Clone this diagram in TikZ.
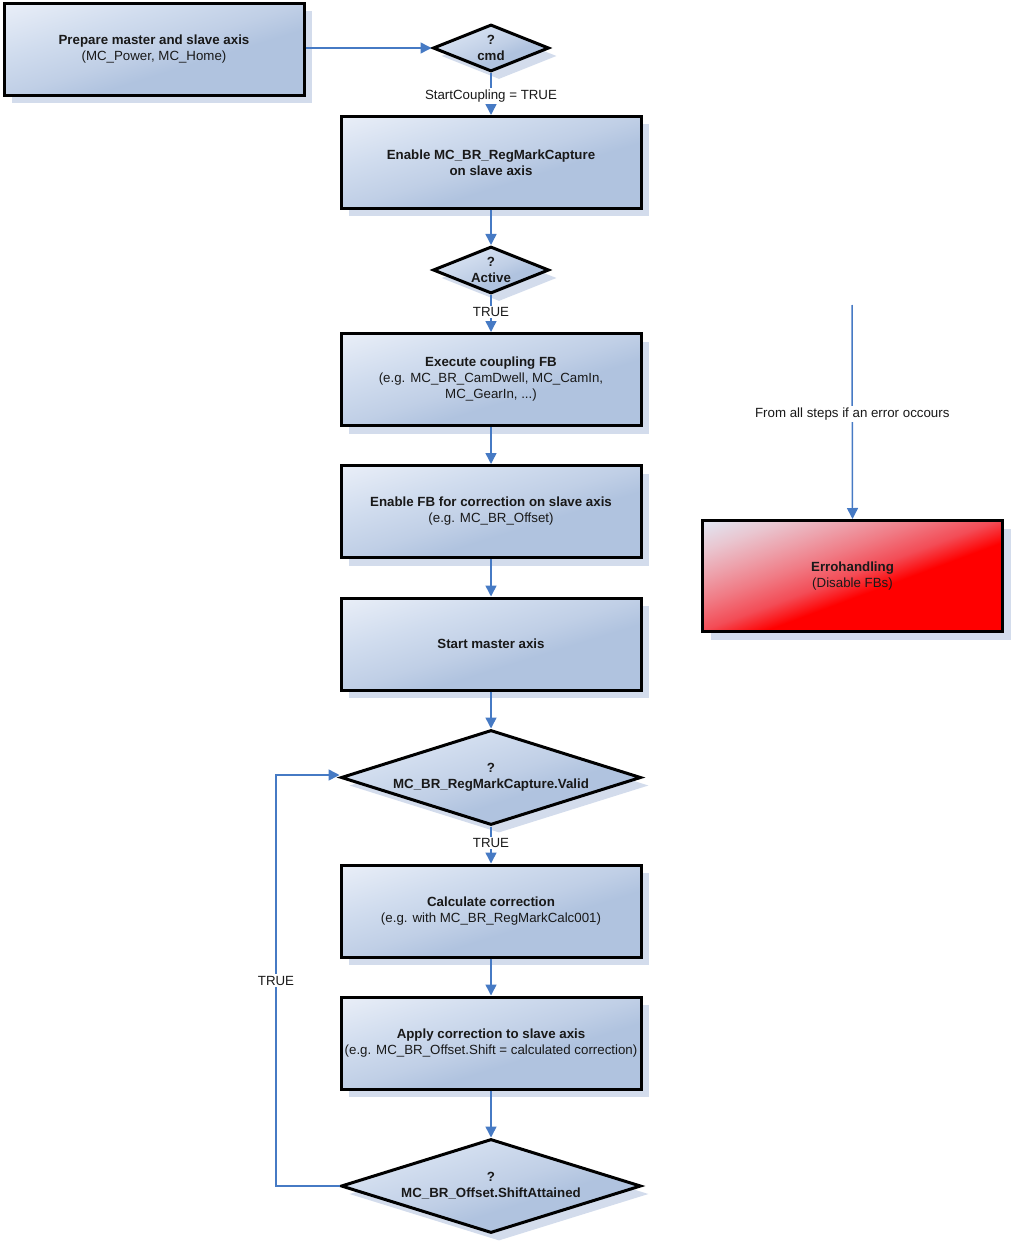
\documentclass[tikz,border=0pt]{standalone}
\usepackage{fontspec}
\setmainfont{Liberation Sans}
\usetikzlibrary{shapes.geometric,arrows.meta,shadows}
\definecolor{shadowc}{RGB}{211,220,236}
\definecolor{arrc}{RGB}{70,122,196}
\definecolor{bA}{RGB}{176,195,223}
\definecolor{bB}{RGB}{192,207,230}
\definecolor{bC}{RGB}{208,220,238}
\definecolor{bD}{RGB}{234,239,248}
\definecolor{rA}{RGB}{255,0,0}
\definecolor{rB}{RGB}{243,76,86}
\definecolor{rC}{RGB}{240,122,132}
\definecolor{rD}{RGB}{237,160,170}
\definecolor{rE}{RGB}{233,198,208}
\definecolor{rF}{RGB}{226,228,240}
\pgfdeclareverticalshading{bluesh}{150bp}{color(0bp)=(bA); color(55bp)=(bA); color(75bp)=(bB); color(105bp)=(bC); color(146bp)=(bD); color(150bp)=(bD)}
\pgfdeclareverticalshading{redsh}{150bp}{color(0bp)=(rA); color(61bp)=(rA); color(76bp)=(rB); color(93bp)=(rC); color(109bp)=(rD); color(126bp)=(rE); color(143bp)=(rF); color(150bp)=(rF)}
\tikzset{
  grad/.style n args={3}{path picture={\node[inner sep=0pt, outer sep=0pt, xscale=#2, yscale=#3, rotate=45]
      at (path picture bounding box.center) {\pgfuseshading{#1}};}},
  dshadow/.style={drop shadow={shadow xshift=8pt, shadow yshift=-8pt, fill=shadowc, opacity=1}},
  stepbox/.style={rectangle, draw=black, line width=3pt, minimum width=300pt, minimum height=92pt,
    grad={bluesh}{3.0}{0.93}, align=center, text=black!90, dshadow},
  errbox/.style={rectangle, draw=black, line width=3pt, minimum width=300pt, minimum height=111pt,
    grad={redsh}{3.0}{1.12}, align=center, text=black!90, dshadow},
  decis/.style={diamond, draw=black, line width=3pt, inner sep=0pt, dshadow},
  dtext/.style={align=center, font=\fontsize{13.3}{16}\bfseries\selectfont, text=black!90},
  arr/.style={draw=arrc, line width=1.5pt, -{Triangle[length=11pt,width=11pt]}},
  lbl/.style={fill=white, inner sep=1.5pt, text=black!90}
}
\begin{document}
\begin{tikzpicture}[x=1pt,y=-1pt, font=\fontsize{13.3}{16}\selectfont]
\useasboundingbox (0,0) rectangle (1013,1241);

\node[stepbox] (b1) at (154,49.5) {\textbf{Prepare master and slave axis}\\(MC\_Power, MC\_Home)};
\node[decis, minimum width=116pt, minimum height=47pt, grad={bluesh}{1.17}{0.48}] (cmd) at (491,48) {};
\node[dtext] (cmdt) at (cmd.center) {?\\cmd};
\node[stepbox] (b2) at (491,162.5) {\textbf{Enable MC\_BR\_RegMarkCapture}\\\textbf{on slave axis}};
\node[decis, minimum width=116pt, minimum height=47pt, grad={bluesh}{1.17}{0.48}] (act) at (491,270) {};
\node[dtext] (actt) at (act.center) {?\\Active};
\node[stepbox] (b3) at (491,379.5) {\textbf{Execute coupling FB}\\(e.g. MC\_BR\_CamDwell, MC\_CamIn,\\MC\_GearIn, ...)};
\node[stepbox] (b4) at (491,511.5) {\textbf{Enable FB for correction on slave axis}\\(e.g. MC\_BR\_Offset)};
\node[stepbox] (b5) at (491,644) {\textbf{Start master axis}};
\node[decis, minimum width=300pt, minimum height=95pt, grad={bluesh}{3.0}{0.96}] (val) at (491,777.5) {};
\node[dtext] (valt) at (val.center) {?\\MC\_BR\_RegMarkCapture.Valid};
\node[stepbox] (b6) at (491,911) {\textbf{Calculate correction}\\(e.g. with MC\_BR\_RegMarkCalc001)};
\node[stepbox] (b7) at (491,1043) {\textbf{Apply correction to slave axis}\\(e.g. MC\_BR\_Offset.Shift = calculated correction)};
\node[decis, minimum width=300pt, minimum height=94pt, grad={bluesh}{3.0}{0.95}] (shf) at (491,1186) {};
\node[dtext] (shft) at (shf.center) {?\\MC\_BR\_Offset.ShiftAttained};
\node[errbox] (err) at (852.5,576) {\textbf{Errohandling}\\(Disable FBs)};

\coordinate (lb) at (276,1186);
\coordinate (lt) at (276,775);
\coordinate (errsrc) at (852,305);

\draw[arr] (b1.east |- cmd.west) -- (cmd.west);
\draw[arr] (cmd.south) -- node[lbl, pos=0.55] {StartCoupling = TRUE} (b2.north);
\draw[arr] (b2.south) -- (act.north);
\draw[arr] (act.south) -- node[lbl, pos=0.45] {TRUE} (b3.north);
\draw[arr] (b3.south) -- (b4.north);
\draw[arr] (b4.south) -- (b5.north);
\draw[arr] (b5.south) -- (val.north);
\draw[arr] (val.south) -- node[lbl, pos=0.45] {TRUE} (b6.north);
\draw[arr] (b6.south) -- (b7.north);
\draw[arr] (b7.south) -- (shf.north);
\draw[arr] (shf.west) -- (lb) -- node[lbl, pos=0.5] {TRUE} (lt) -- (val.west |- lt);
\draw[arr] (errsrc) -- node[lbl, pos=0.51] {From all steps if an error occours} (err.north);
\end{tikzpicture}
\end{document}
